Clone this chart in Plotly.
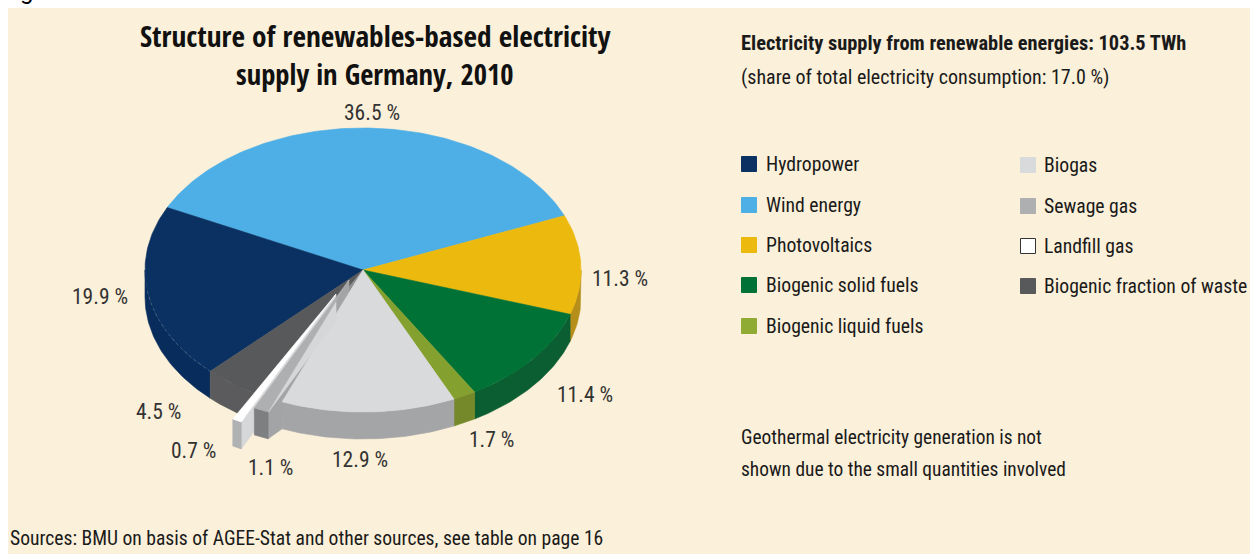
import math
import plotly.graph_objects as go

# Share of renewable electricity supply, percent, clockwise from the wind/photovoltaics edge
sources = ["Photovoltaics", "Biogenic solid fuels", "Biogenic liquid fuels", "Biogas",
           "Sewage gas", "Landfill gas", "Biogenic fraction of waste", "Hydropower", "Wind energy"]
shares = [11.3, 11.4, 1.7, 12.9, 1.1, 0.7, 4.5, 19.9, 36.5]
top_colors = ["#ecb90e", "#007236", "#84a02e", "#d9dadc", "#aeafb1", "#ffffff", "#58595b", "#0a3161", "#4dafe5"]
side_colors = ["#b58f1a", "#0b5e31", "#75892b", "#a4a5a7", "#7e7f81", "#b0b1b3", "#5b5b5d", "#082d5c", "#3b8fc0"]
radial_colors = {"Sewage gas": "#a3a4a6", "Landfill gas": "#d6d7d9"}
label_texts = ["11.3 %", "11.4 %", "1.7 %", "12.9 %", "1.1 %", "0.7 %", "4.5 %", "19.9 %", "36.5 %"]
label_spots = [(620, 278), (585, 394), (491, 439), (360, 459), (270, 467), (193, 450), (158, 411), (100, 296), (372, 112)]

legend_left = ["Hydropower", "Wind energy", "Photovoltaics", "Biogenic solid fuels", "Biogenic liquid fuels"]
legend_right = ["Biogas", "Sewage gas", "Landfill gas", "Biogenic fraction of waste"]

title_lines = ["Structure of renewables-based electricity", "supply in Germany, 2010"]
supply_head = "Electricity supply from renewable energies: 103.5 TWh"
supply_sub = "(share of total electricity consumption: 17.0 %)"
note_lines = ["Geothermal electricity generation is not", "shown due to the small quantities involved"]
source_line = "Sources: BMU on basis of AGEE-Stat and other sources, see table on page 16"

# Tilted-disc projection in page pixels
CX, CY, RX, RY, DEPTH = 363, 270, 218, 142, 27
START_DEG = 22.5
PULLED = {"Sewage gas": (-14, 10), "Landfill gas": (-27, 24)}
FONT = "Roboto Condensed"
TITLE_FONT = "Open Sans Condensed"
INK = "#1a1a1a"

fig = go.Figure()


def rim(deg, dx=0, dy=0, drop=0):
    t = math.radians(deg)
    return CX + dx + RX * math.cos(t), CY + dy + drop - RY * math.sin(t)


def arc(a, b, dx=0, dy=0, drop=0):
    n = max(2, int(abs(a - b)) + 2)
    return [rim(a + (b - a) * i / (n - 1), dx, dy, drop) for i in range(n)]


def poly(points, color):
    xs = [p[0] for p in points] + [points[0][0]]
    ys = [p[1] for p in points] + [points[0][1]]
    fig.add_trace(go.Scatter(x=xs, y=ys, mode="lines", fill="toself", fillcolor=color,
                             line=dict(width=0.6, color=color), hoverinfo="skip", showlegend=False))


def top_face(a, b, color, dx=0, dy=0):
    poly([(CX + dx, CY + dy)] + arc(a, b, dx, dy), color)


def outer_face(a, b, color, dx=0, dy=0):
    # Only the part of the rim that faces the viewer is drawn (lower half of the disc)
    lo, hi = sorted((a % 360, (a % 360) + (b - a)))
    for base in (-360, 0):
        s, e = max(lo + base, -180), min(hi + base, 0)
        if s < e:
            poly(arc(s, e, dx, dy) + arc(e, s, dx, dy, DEPTH), color)


def radial_face(deg, color, dx=0, dy=0):
    corner = rim(deg, dx, dy)
    low = rim(deg, dx, dy, DEPTH)
    poly([(CX + dx, CY + dy), corner, low, (CX + dx, CY + dy + DEPTH)], color)


# Slice angle ranges, running clockwise
spans = {}
cursor = START_DEG
for name, share in zip(sources, shares):
    sweep = share * 3.6
    spans[name] = (cursor, cursor - sweep)
    cursor -= sweep

styles = {n: (t, s) for n, t, s in zip(sources, top_colors, side_colors)}

# Back of the disc first, the pulled-out wedges last
for name in ["Wind energy", "Hydropower", "Biogenic fraction of waste", "Photovoltaics",
             "Biogenic solid fuels", "Biogenic liquid fuels"]:
    a, b = spans[name]
    outer_face(b, a, styles[name][1])
    top_face(a, b, styles[name][0])

# The gap the pulled-out wedges leave behind
a_gap, b_gap = spans["Sewage gas"][0], spans["Landfill gas"][1]
poly([(CX, CY)] + arc(a_gap, b_gap), "#8e8f91")

# Seam along the front rim
seam = arc(spans["Hydropower"][0] - 37, spans["Biogenic fraction of waste"][1], 0, 0, 0)
fig.add_trace(go.Scatter(x=[p[0] for p in seam], y=[p[1] for p in seam], mode="lines",
                         line=dict(width=0.7, color="rgba(255,255,255,0.28)", dash="dot"),
                         hoverinfo="skip", showlegend=False))

dx_s, dy_s = PULLED["Sewage gas"]
dx_l, dy_l = PULLED["Landfill gas"]

# Inner face of the sewage gas wedge, closing up against the biogas rim
sewage_edge = spans["Sewage gas"][0]
radial_face(sewage_edge, radial_colors["Sewage gas"], dx_s, dy_s)
poly([rim(sewage_edge, dx_s, dy_s), rim(sewage_edge, dx_s, dy_s, DEPTH),
      rim(sewage_edge, 0, 0, DEPTH), rim(sewage_edge)], radial_colors["Sewage gas"])

a, b = spans["Biogas"]
outer_face(b, a, styles["Biogas"][1])
top_face(a, b, styles["Biogas"][0])

# Landfill gas wedge
a, b = spans["Landfill gas"]
radial_face(a, radial_colors["Landfill gas"], dx_l, dy_l)
outer_face(b, a, styles["Landfill gas"][1], dx_l, dy_l)
top_face(a, b, styles["Landfill gas"][0], dx_l, dy_l)

# Sewage gas wedge
a, b = spans["Sewage gas"]
outer_face(b, a, styles["Sewage gas"][1], dx_s, dy_s)
top_face(a, b, styles["Sewage gas"][0], dx_s, dy_s)


def text(x, y, s, size, anchor="left", bold=False, color=INK, family=FONT):
    fig.add_annotation(x=x, y=y, text=f"<b>{s}</b>" if bold else s, showarrow=False,
                       xref="x", yref="y", xanchor=anchor, yanchor="middle",
                       font=dict(family=family, size=size, color=color))


for s, (x, y) in zip(label_texts, label_spots):
    text(x, y, s, 21.5, "center", color="#333333")

text(375, 36, title_lines[0], 29.3, "center", color="#111111", family=TITLE_FONT)
text(375, 73, title_lines[1], 28.6, "center", color="#111111", family=TITLE_FONT)
text(739, 43, supply_head, 20.4, bold=True)
text(739, 77, supply_sub, 20)
text(739, 437, note_lines[0], 19.4)
text(739, 469, note_lines[1], 19.4)
text(8, 538, source_line, 19.6)

# Tail of the page heading running in from above the panel
fig.add_annotation(x=26, y=1 + 9 / 554, text="g", showarrow=False, xref="x", yref="paper",
                   xanchor="center", yanchor="middle",
                   font=dict(family="Roboto", size=24, color="#000000"))

# Legend swatches and names
swatch_colors = dict(zip(sources, top_colors))
swatch_colors["Biogenic liquid fuels"] = "#8fab33"
left_rows = [164, 205, 245, 285, 326]
right_rows = [165, 206, 246, 286]
for names, rows, sx, tx in ((legend_left, left_rows, 749, 764), (legend_right, right_rows, 1028, 1042)):
    for name, y in zip(names, rows):
        edge = "#333333" if name == "Landfill gas" else swatch_colors[name]
        fig.add_trace(go.Scatter(x=[sx], y=[y], mode="markers", hoverinfo="skip", showlegend=False,
                                 marker=dict(symbol="square", size=15, color=swatch_colors[name],
                                             line=dict(width=1, color=edge))))
        text(tx, y, name, 19.7)

fig.update_layout(
    width=1250, height=554, margin=dict(l=0, r=0, t=0, b=0),
    paper_bgcolor="#ffffff", plot_bgcolor="#ffffff", showlegend=False,
    xaxis=dict(range=[0, 1250], visible=False, fixedrange=True),
    yaxis=dict(range=[554, 0], visible=False, fixedrange=True),
    shapes=[dict(type="rect", xref="x", yref="y", x0=8, x1=1250, y0=8, y1=554,
                 fillcolor="#fbf0d9", line=dict(width=0), layer="below")],
)

fig.write_html("out.html", config={"displayModeBar": False})
